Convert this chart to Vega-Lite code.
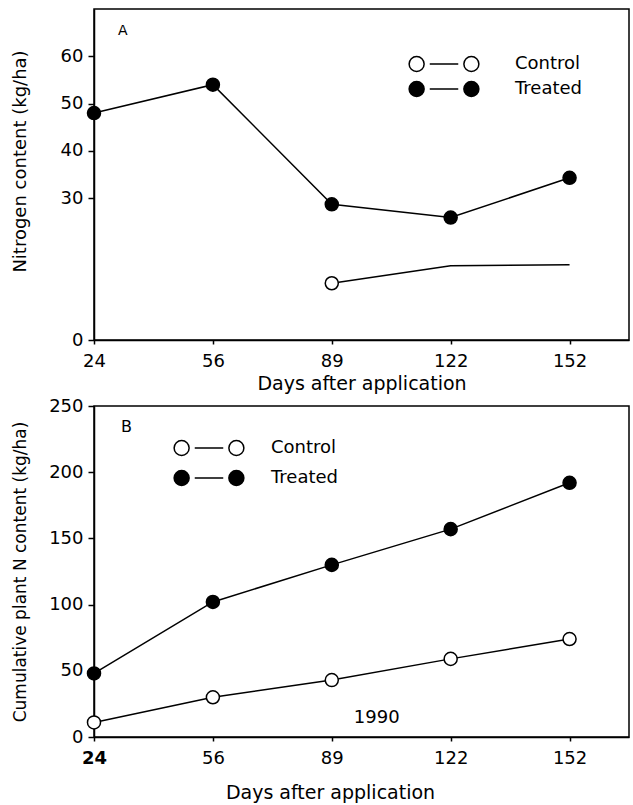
{
  "$schema": "https://vega.github.io/schema/vega-lite/v6.json",
  "background": "white",
  "padding": {"left": 10, "top": 8, "right": 0, "bottom": 5},
  "config": {
    "font": "DejaVu Sans",
    "view": {"stroke": "black", "strokeWidth": 1.5},
    "axis": {
      "domainColor": "black", "domainWidth": 1.5, "tickColor": "black", "tickWidth": 1.5,
      "labelColor": "black", "titleColor": "black", "grid": false,
      "labelFont": "DejaVu Sans", "titleFont": "DejaVu Sans", "labelFontSize": 18,
      "titleFontWeight": "normal"
    },
    "concat": {"spacing": 2}
  },
  "datasets": {
    "a": [
      {"day": 24, "series": "Treated", "value": 48},
      {"day": 56, "series": "Treated", "value": 54},
      {"day": 89, "series": "Treated", "value": 28.7},
      {"day": 122, "series": "Treated", "value": 25.9},
      {"day": 152, "series": "Treated", "value": 34.3},
      {"day": 89, "series": "Control", "value": 12},
      {"day": 122, "series": "Control", "value": 15.7},
      {"day": 152, "series": "Control", "value": 15.9}
    ],
    "b": [
      {"day": 24, "series": "Treated", "value": 48},
      {"day": 56, "series": "Treated", "value": 102},
      {"day": 89, "series": "Treated", "value": 130},
      {"day": 122, "series": "Treated", "value": 157},
      {"day": 152, "series": "Treated", "value": 192},
      {"day": 24, "series": "Control", "value": 11},
      {"day": 56, "series": "Control", "value": 30},
      {"day": 89, "series": "Control", "value": 43},
      {"day": 122, "series": "Control", "value": 59},
      {"day": 152, "series": "Control", "value": 74}
    ]
  },
  "vconcat": [
    {
      "width": 535,
      "height": 331,
      "title": {"text": "A", "anchor": "start", "frame": "group", "offset": 0, "dx": 24, "dy": 40, "baseline": "alphabetic", "fontSize": 14, "fontWeight": "normal", "font": "DejaVu Sans", "color": "black"},
      "data": {"name": "a"},
      "encoding": {
        "x": {
          "field": "day", "type": "ordinal",
          "scale": {"type": "point", "padding": 0.25, "align": 0, "domain": [24, 56, 89, 122, 152]},
          "axis": {"title": "Days after application", "labelAngle": 0, "titleFontSize": 19, "tickSize": 4, "labelPadding": 8, "titlePadding": 4}
        },
        "y": {
          "field": "value", "type": "quantitative",
          "scale": {"domain": [0, 70]},
          "axis": {"values": [0, 30, 40, 50, 60], "title": "Nitrogen content (kg/ha)", "titleFontSize": 18, "titlePadding": 31, "labelPadding": 5, "tickSize": 6, "titleY": 152}
        }
      },
      "layer": [
        {"mark": {"type": "line", "color": "black", "strokeWidth": 1.5}, "encoding": {"detail": {"field": "series"}}},
        {
          "transform": [{"filter": "datum.series == 'Treated' || datum.day == 89"}],
          "mark": {"type": "point", "filled": true, "shape": "circle", "size": 170, "stroke": "black", "strokeWidth": 1.5, "opacity": 1},
          "encoding": {
            "fill": {
              "field": "series", "type": "nominal",
              "scale": {"domain": ["Control", "Treated"], "range": ["white", "black"]},
              "legend": {
                "title": null, "orient": "none", "legendX": 341, "legendY": 46, "padding": 0,
                "symbolType": "M-2.65,0A1,1 0 1,1 -4.65,0A1,1 0 1,1 -2.65,0Z M-1.9,0L1.9,0 M4.65,0A1,1 0 1,1 2.65,0A1,1 0 1,1 4.65,0Z",
                "symbolSize": 225, "symbolStrokeColor": "black", "symbolStrokeWidth": 1.5, "symbolOpacity": 1,
                "labelFont": "DejaVu Sans", "labelFontSize": 18, "labelColor": "black", "labelOffset": 62, "rowPadding": 3
              }
            }
          }
        }
      ]
    },
    {
      "width": 535,
      "height": 331,
      "title": {"text": "B", "anchor": "start", "frame": "group", "offset": 0, "dx": 27, "dy": 51, "baseline": "alphabetic", "fontSize": 16, "fontWeight": "normal", "font": "DejaVu Sans", "color": "black"},
      "data": {"name": "b"},
      "encoding": {
        "x": {
          "field": "day", "type": "ordinal",
          "scale": {"type": "point", "padding": 0.25, "align": 0, "domain": [24, 56, 89, 122, 152]},
          "axis": {
            "title": "Days after application", "labelAngle": 0, "titleFontSize": 19, "tickSize": 4, "labelPadding": 8, "titlePadding": 16, "titleX": 236,
            "labelFontWeight": {"condition": {"test": "datum.value == 24", "value": "bold"}, "value": "normal"}
          }
        },
        "y": {
          "field": "value", "type": "quantitative",
          "scale": {"domain": [0, 250]},
          "axis": {"values": [0, 50, 100, 150, 200, 250], "title": "Cumulative plant N content (kg/ha)", "titleFontSize": 17, "titlePadding": 19, "labelPadding": 5, "tickSize": 6}
        }
      },
      "layer": [
        {"mark": {"type": "line", "color": "black", "strokeWidth": 1.5}, "encoding": {"detail": {"field": "series"}}},
        {
          "mark": {"type": "point", "filled": true, "shape": "circle", "size": 170, "stroke": "black", "strokeWidth": 1.5, "opacity": 1},
          "encoding": {
            "fill": {
              "field": "series", "type": "nominal",
              "scale": {"domain": ["Control", "Treated"], "range": ["white", "black"]},
              "legend": {
                "title": null, "orient": "none", "legendX": 106, "legendY": 33, "padding": 0,
                "symbolType": "M-2.65,0A1,1 0 1,1 -4.65,0A1,1 0 1,1 -2.65,0Z M-1.9,0L1.9,0 M4.65,0A1,1 0 1,1 2.65,0A1,1 0 1,1 4.65,0Z",
                "symbolSize": 225, "symbolStrokeColor": "black", "symbolStrokeWidth": 1.5, "symbolOpacity": 1,
                "labelFont": "DejaVu Sans", "labelFontSize": 18, "labelColor": "black", "labelOffset": 53, "rowPadding": 8
              }
            }
          }
        },
        {
          "transform": [{"filter": "datum.series == 'Control' && datum.day == 89"}],
          "mark": {"type": "text", "dx": 45, "fontSize": 18, "font": "DejaVu Sans", "fill": "black", "opacity": 1},
          "encoding": {"y": {"datum": 14, "type": "quantitative"}, "text": {"value": "1990"}}
        }
      ]
    }
  ],
  "resolve": {"scale": {"x": "independent", "y": "independent", "fill": "independent"}, "legend": {"fill": "independent"}}
}
